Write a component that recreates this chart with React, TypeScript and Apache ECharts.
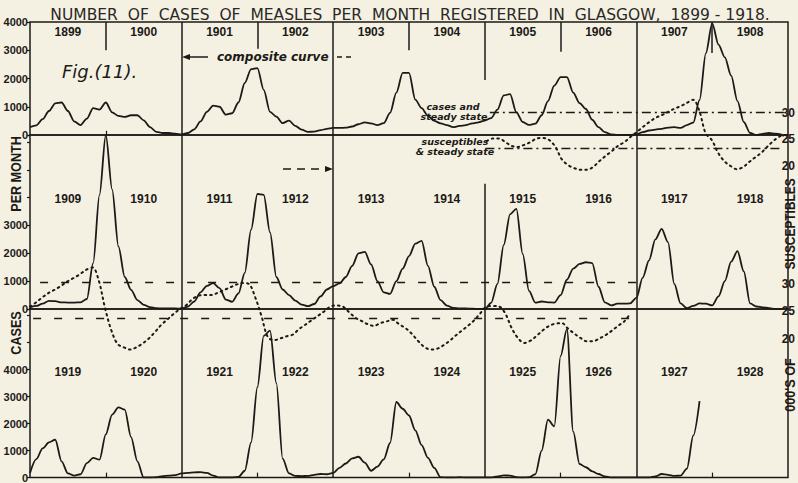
import React, { useEffect, useRef } from "react";
import * as echarts from "echarts";

// ---------- DATA ----------
const TITLE = "NUMBER  OF  CASES  OF  MEASLES  PER  MONTH  REGISTERED  IN  GLASGOW,  1899 - 1918.";

const years1899_1908 = ["1899", "1900", "1901", "1902", "1903", "1904", "1905", "1906", "1907", "1908"];
const years1909_1918 = ["1909", "1910", "1911", "1912", "1913", "1914", "1915", "1916", "1917", "1918"];
const years1919_1928 = ["1919", "1920", "1921", "1922", "1923", "1924", "1925", "1926", "1927", "1928"];

// monthly cases (month index 0 = January of the first year of the panel)
const cases1899_1908 = [
  280, 340, 560, 850, 1120, 1150, 850, 480, 350, 580,
  950, 900, 1150, 800, 680, 640, 700, 700, 520, 280,
  110, 70, 70, 45, 20, 70, 200, 480, 820, 1040,
  1000, 720, 770, 1150, 1840, 2330, 2370, 1600, 820, 650,
  420, 510, 320, 190, 110, 120, 170, 220, 250, 250,
  260, 300, 380, 450, 410, 350, 420, 780, 1500, 2200,
  2200, 1250, 950, 680, 500, 410, 350, 280, 320, 350,
  410, 450, 510, 600, 900, 1400, 1450, 800, 460, 360,
  400, 700, 1200, 1750, 2050, 2050, 1500, 1130, 920, 540,
  280, 100, 20, 0, 0, 0, 20, 100, 160, 190,
  220, 260, 280, 250, 350, 440, 1240, 2900, 3950, 3200,
  2750, 2100, 1200, 460, 70, 0, 40, 70, 50, 10,
];
const cases1909_1918 = [
  60, 110, 190, 290, 280, 240, 230, 230, 240, 360,
  1650, 4100, 6250, 4300, 2250, 1150, 690, 320, 150, 70,
  30, 20, 20, 20, 10, 90, 270, 600, 830, 930,
  750, 340, 260, 560, 1300, 2850, 4130, 4100, 2750, 1150,
  700, 500, 300, 160, 100, 180, 450, 700, 820, 920,
  1150, 1550, 2000, 2050, 1600, 1000, 600, 540, 1000, 1450,
  1900, 2350, 2450, 1550, 800, 320, 120, 40, 20, 20,
  10, 0, 0, 220, 900, 2300, 3400, 3600, 1980, 650,
  230, 270, 240, 230, 500, 1050, 1450, 1620, 1680, 1650,
  800, 240, 130, 190, 190, 200, 400, 1130, 1750, 2500,
  2880, 2400, 900, 200, 30, 110, 200, 190, 130, 450,
  1000, 1700, 2080, 1350, 200, 90, 60, 30, 0, 0,
];
const cases1919_1927 = [
  170, 680, 1080, 1300, 1400, 600, 150, 70, 120, 530,
  730, 660, 1600, 2330, 2600, 2520, 1500, 600, 0, 0,
  10, 50, 70, 90, 150, 170, 190, 200, 170, 70,
  0, 0, 0, 20, 250, 1300, 3350, 5250, 5450, 3500,
  700, 150, 60, 50, 60, 100, 130, 120, 170, 360,
  520, 710, 770, 550, 250, 400, 670, 1280, 2800, 2550,
  2300, 1750, 1200, 730, 360, 10, 0, 0, 10, 0,
  0, 0, 0, 0, 40, 80, 70, 10, 0, 10,
  120, 1000, 2150, 1900, 4500, 5500, 1700, 500, 380, 230,
  130, 40, 0, 0, 0, 0, 0, 0, 0, 40,
  130, 100, 60, 70, 330, 1550, 2830,
];

// susceptibles, thousands
const susc1899_1908Start = 73; // month index of first value
const susc1899_1908 = [
  24.6, 25.1, 25.1, 24.4, 23.7, 23.5, 23.9, 24.4, 25.1, 25.2,
  24.8, 23.5, 21.2, 20.1, 19.5, 19.2, 19.2, 19.7, 20.8, 21.8,
  22.7, 23.7, 24.4, 25.4, 26.3, 27.3, 28.2, 29.0, 29.5, 30.1,
  30.7, 31.2, 31.8, 32.4, 30.3, 26.1, 24.8, 22.4, 20.8, 19.9,
  19.3, 19.7, 20.7, 21.6, 22.5, 23.7, 24.8, 25.6,
];
const susc1909_1918Start = 0;
const susc1909_1918 = [
  25.8, 26.6, 27.5, 28.3, 28.9, 29.6, 30.4, 31.0, 31.7, 32.5,
  32.9, 30.5, 25.5, 21.5, 19.0, 18.4, 18.0, 18.4, 19.1, 20.0,
  21.2, 22.5, 23.5, 24.5, 25.4, 26.1, 27.2, 27.8, 27.9, 27.9,
  28.3, 28.8, 29.3, 29.8, 30.1, 29.9, 27.5, 24.1, 20.3, 19.7,
  20.0, 20.4, 20.7, 21.7, 22.5, 23.3, 24.1, 24.9, 25.8, 26.0,
  25.8, 24.8, 23.8, 23.2, 22.6, 22.3, 22.8, 23.1, 23.4, 22.6,
  21.9, 20.9, 19.6, 18.5, 18.0, 18.1, 18.7, 19.5, 20.5, 21.4,
  22.3, 23.3, 24.6, 25.8, 25.9, 25.8, 24.5, 21.9, 20.1, 19.2,
  19.6, 20.5, 21.5, 22.3, 22.7, 22.8, 21.8, 20.9, 20.1, 19.5,
  19.5, 20.0, 20.6, 21.4, 22.3, 23.1, 24.6,
];

const casesSteady1899_1908 = 800;
const casesSteady1909_1918 = 950;
const suscSteady1899_1908 = 23.3;
const suscSteady1909_1918 = 23.7;

// ---------- STYLE ----------
const INK = "#1c1a17";
const BG = "#f4f1e3";
const NARROW = "'Liberation Sans Narrow', 'Liberation Sans', Arial, sans-serif";
const HAND = "'DejaVu Sans', 'Liberation Sans', sans-serif";

const GL = 30;
const GW = 758;

const vline = (x: number, y1: number, y2: number, w = 1.5) => [
  { coord: [x, y1], lineStyle: { color: INK, width: w, type: "solid" } },
  { coord: [x, y2] },
];
const hline = (x1: number, x2: number, y: number, dash: number[]) => [
  { coord: [x1, y], lineStyle: { color: INK, width: 1.4, type: dash } },
  { coord: [x2, y] },
];

const markLineBase = {
  silent: true,
  symbol: ["none", "none"],
  label: { show: false },
  emphasis: { disabled: true },
  animation: false,
};

function App() {
  const ref = useRef<HTMLDivElement>(null);
  useEffect(() => {
    if (!ref.current) return;
    const chart = echarts.init(ref.current, null, { renderer: "svg" });
    const toPairs = (arr: number[], start = 0) => arr.map((v, i) => [start + i, v]);

    const valueX = (gridIndex: number) => ({
      type: "value",
      gridIndex,
      min: 0,
      max: 120,
      show: false,
    });
    const yearX = (gridIndex: number, data: string[], margin: number) => ({
      type: "category",
      gridIndex,
      data,
      position: "top",
      boundaryGap: true,
      axisLine: { show: false },
      axisTick: { show: false },
      splitLine: { show: false },
      axisLabel: {
        inside: true,
        interval: 0,
        margin,
        color: INK,
        fontFamily: NARROW,
        fontWeight: "bold",
        fontSize: 12,
      },
    });
    const casesY = (gridIndex: number, max: number, maxLabel: number) => ({
      type: "value",
      gridIndex,
      min: 0,
      max,
      interval: 1000,
      axisLine: { show: false },
      axisTick: { show: true, length: 3, lineStyle: { color: INK, width: 1.2 } },
      splitLine: { show: false },
      axisLabel: {
        color: INK,
        fontFamily: NARROW,
        fontWeight: "bold",
        fontSize: 11,
        margin: 2,
        formatter: (v: number) => (v <= maxLabel ? String(v) : ""),
      },
    });
    const suscY = (gridIndex: number) => ({
      type: "value",
      gridIndex,
      position: "right",
      min: 15,
      max: 35,
      interval: 5,
      axisLine: { show: false },
      axisTick: { show: false },
      splitLine: { show: false },
      axisLabel: {
        color: INK,
        fontFamily: NARROW,
        fontWeight: "bold",
        fontSize: 12,
        margin: 1,
        formatter: (v: number) => (v >= 20 && v <= 30 ? String(v) : ""),
      },
    });

    const gridBorder = { show: true, borderColor: INK, borderWidth: 1.5, backgroundColor: "transparent" };

    const casesLine = {
      type: "line",
      showSymbol: false,
      smooth: 0.3,
      smoothMonotone: "x",
      lineStyle: { color: INK, width: 1.8 },
      silent: true,
      z: 3,
    };
    const suscLine = {
      type: "line",
      showSymbol: false,
      smooth: 0.35,
      lineStyle: { color: INK, width: 2, type: [1.6, 4], cap: "round" },
      silent: true,
      clip: false,
      z: 3,
    };

    const dashDot = [9, 4, 2, 4];
    const dashed = [8, 13];

    const sideText = (text: string, x: number, y: number, sx: number) => ({
      type: "text",
      x,
      y,
      rotation: Math.PI / 2,
      scaleX: sx,
      style: {
        text,
        fontFamily: NARROW,
        fontWeight: "bold",
        fontSize: 14,
        fill: INK,
        align: "center",
        verticalAlign: "middle",
      },
    });
    const noteText = (text: string, x: number, y: number) => ({
      type: "text",
      x,
      y,
      style: {
        text,
        fontFamily: HAND,
        fontStyle: "italic",
        fontWeight: "bold",
        fontSize: 9.5,
        fill: INK,
        align: "center",
        verticalAlign: "middle",
      },
    });

    const option: any = {
      animation: false,
      backgroundColor: BG,
      grid: [
        { left: GL, top: 22, width: GW, height: 113, ...gridBorder },
        { left: GL, top: 135, width: GW, height: 174, ...gridBorder },
        { left: GL, top: 309, width: GW, height: 169, ...gridBorder },
        { left: GL, top: 86, width: GW, height: 106, show: false },
        { left: GL, top: 256, width: GW, height: 110, show: false },
      ],
      xAxis: [
        valueX(0),
        yearX(0, years1899_1908, 4),
        valueX(1),
        yearX(1, years1909_1918, 58),
        valueX(2),
        yearX(2, years1919_1928, 57),
        valueX(3),
        valueX(4),
      ],
      yAxis: [
        casesY(0, 4000, 4000),
        casesY(1, 6250, 3000),
        casesY(2, 6250, 4000),
        suscY(3),
        suscY(4),
      ],
      series: [
        {
          ...casesLine,
          xAxisIndex: 0,
          yAxisIndex: 0,
          data: toPairs(cases1899_1908),
          markLine: {
            ...markLineBase,
            data: [
              vline(24, 0, 4000),
              vline(48, 0, 4000),
              vline(96, 0, 4000),
              vline(72, 1950, 4000),
              vline(12, 3000, 4000),
              vline(36, 3050, 4000),
              vline(60, 3000, 4000),
              vline(84, 2950, 4000),
              vline(108, 2900, 4000),
              vline(12, 0, 150, 1.2),
              hline(72.8, 120, casesSteady1899_1908, dashDot),
            ],
          },
        },
        {
          ...casesLine,
          xAxisIndex: 2,
          yAxisIndex: 1,
          data: toPairs(cases1909_1918),
          markLine: {
            ...markLineBase,
            data: [
              vline(24, 0, 6250),
              vline(48, 0, 6250),
              vline(96, 0, 6250),
              vline(72, 0, 4500),
              hline(1.6, 96, casesSteady1909_1918, dashed),
            ],
          },
        },
        {
          ...casesLine,
          xAxisIndex: 4,
          yAxisIndex: 2,
          data: toPairs(cases1919_1927),
          markLine: {
            ...markLineBase,
            data: [
              vline(24, 0, 6250),
              vline(48, 0, 6250),
              vline(72, 0, 6250),
              vline(96, 0, 6250),
              vline(12, 0, 180, 1.2),
              vline(36, 0, 180, 1.2),
              vline(60, 0, 180, 1.2),
              vline(84, 0, 180, 1.2),
              vline(108, 0, 180, 1.2),
            ],
          },
        },
        {
          ...suscLine,
          xAxisIndex: 6,
          yAxisIndex: 3,
          data: toPairs(susc1899_1908, susc1899_1908Start),
          markLine: {
            ...markLineBase,
            data: [hline(72.8, 120, suscSteady1899_1908, dashDot)],
          },
        },
        {
          ...suscLine,
          xAxisIndex: 7,
          yAxisIndex: 4,
          data: toPairs(susc1909_1918, susc1909_1918Start),
          markLine: {
            ...markLineBase,
            data: [hline(0.5, 96, suscSteady1909_1918, dashed)],
          },
        },
      ],
      graphic: [
        {
          type: "text",
          x: 410,
          y: 15,
          style: {
            text: TITLE,
            fontFamily: HAND,
            fontSize: 15.5,
            fill: "#2a2825",
            align: "center",
            verticalAlign: "middle",
          },
        },
        {
          type: "text",
          x: 62,
          y: 71,
          style: {
            text: "Fig.(11).",
            fontFamily: HAND,
            fontStyle: "italic",
            fontSize: 18,
            fill: INK,
            align: "left",
            verticalAlign: "middle",
          },
        },
        {
          type: "text",
          x: 217,
          y: 57,
          style: {
            text: "composite curve",
            fontFamily: HAND,
            fontStyle: "italic",
            fontWeight: "bold",
            fontSize: 12,
            fill: INK,
            align: "left",
            verticalAlign: "middle",
          },
        },
        { type: "line", shape: { x1: 188, y1: 57, x2: 208, y2: 57 }, style: { stroke: INK, lineWidth: 1.5 } },
        { type: "polygon", shape: { points: [[182, 57], [190, 54], [190, 60]] }, style: { fill: INK } },
        { type: "line", shape: { x1: 337, y1: 57, x2: 354, y2: 57 }, style: { stroke: INK, lineWidth: 1.5, lineDash: [5, 4] } },
        { type: "line", shape: { x1: 283, y1: 169, x2: 326, y2: 169 }, style: { stroke: INK, lineWidth: 1.5, lineDash: [8, 6] } },
        { type: "polygon", shape: { points: [[333, 169], [325, 166], [325, 172]] }, style: { fill: INK } },
        noteText("cases and", 453, 106),
        noteText("steady state", 454, 116),
        noteText("susceptibles", 455, 141),
        noteText("& steady state", 455, 151),
        sideText("PER MONTH", 16, 174, 0.9),
        sideText("CASES", 16, 333, 0.9),
        sideText("SUSCEPTIBLES", 790, 224, 0.85),
        sideText("000'S OF", 790, 385, 0.9),
      ],
    };
    chart.setOption(option);
    return () => chart.dispose();
  }, []);

  return (
    <div
      ref={ref}
      style={{ position: "fixed", left: 0, top: 0, width: 798, height: 483, background: BG }}
    />
  );
}

export default App;
